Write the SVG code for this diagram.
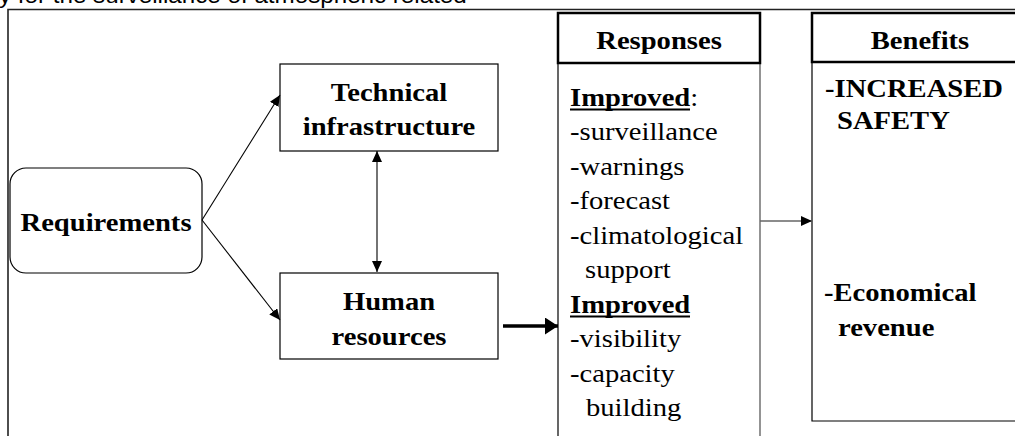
<svg xmlns="http://www.w3.org/2000/svg" width="1015" height="436" viewBox="0 0 1015 436">
  <style>
    .t { font-family: "Liberation Serif", "Times New Roman", serif; font-size: 26px; fill: #000; }
    .b { font-weight: bold; }
    .c { text-anchor: middle; }
    .cap { font-family: "Liberation Sans", Arial, sans-serif; font-size: 22px; fill: #000; }
    .box { fill: #fff; stroke: #000; stroke-width: 1.2; }
    .hdr { fill: #fff; stroke: #000; stroke-width: 2.5; }
    .frame { fill: none; stroke: #222; stroke-width: 1.6; }
    .col { fill: none; stroke: #000; stroke-width: 1.2; }
    .colg { fill: none; stroke: #666; stroke-width: 1.4; }
    .conn { fill: none; stroke: #000; stroke-width: 1.1; }
    .thick { fill: none; stroke: #000; stroke-width: 3.5; }
    .ul { stroke: #000; stroke-width: 2; }
  </style>
  <defs>
    <marker id="ah" markerUnits="userSpaceOnUse" markerWidth="12" markerHeight="10" refX="11" refY="5" orient="auto-start-reverse">
      <path d="M0,0 L11,5 L0,10 Z" fill="#000"/>
    </marker>
    <marker id="ahb" markerUnits="userSpaceOnUse" markerWidth="14" markerHeight="17" refX="13" refY="8.5" orient="auto">
      <path d="M0,0 L13,8.5 L0,17 Z" fill="#000"/>
    </marker>
  </defs>

  <rect width="1015" height="436" fill="#fff"/>

  <text class="cap" transform="translate(-1 3) scale(1.1 1)">y for the surveillance of atmospheric related</text>

  <g id="frame">
    <path class="frame" d="M8,437 L8,9.5 L1016,9.5"/>
  </g>

  <g id="requirements">
    <rect class="box" x="10" y="168" width="192" height="105" rx="16" ry="16"/>
    <text class="t b c" transform="translate(106 231) scale(1.1 1)">Requirements</text>
  </g>

  <g id="technical">
    <rect class="box" x="280" y="64" width="218" height="87"/>
    <text class="t b c" transform="translate(389 101) scale(1.1 1)">Technical</text>
    <text class="t b c" transform="translate(389 135) scale(1.1 1)">infrastructure</text>
  </g>

  <g id="human">
    <rect class="box" x="280" y="273" width="218" height="86"/>
    <text class="t b c" transform="translate(389 310) scale(1.1 1)">Human</text>
    <text class="t b c" transform="translate(389 345) scale(1.1 1)">resources</text>
  </g>

  <g id="responses">
    <line class="col" x1="558" y1="63" x2="558" y2="437"/>
    <line class="colg" x1="760" y1="63" x2="760" y2="437"/>
    <rect class="hdr" x="558" y="13" width="202" height="50"/>
    <text class="t b c" transform="translate(659 49) scale(1.1 1)">Responses</text>
    <text class="t" transform="translate(570 105.5) scale(1.1 1)"><tspan class="b">Improved</tspan>:</text>
    <line class="ul" x1="570" y1="109.5" x2="690" y2="109.5"/>
    <text class="t" transform="translate(570 140) scale(1.1 1)">-surveillance</text>
    <text class="t" transform="translate(570 174.5) scale(1.1 1)">-warnings</text>
    <text class="t" transform="translate(570 209) scale(1.1 1)">-forecast</text>
    <text class="t" transform="translate(570 243.5) scale(1.1 1)">-climatological</text>
    <text class="t" transform="translate(585 278) scale(1.1 1)">support</text>
    <text class="t b" transform="translate(570 312.5) scale(1.1 1)">Improved</text>
    <line class="ul" x1="570" y1="316.5" x2="690" y2="316.5"/>
    <text class="t" transform="translate(570 347) scale(1.1 1)">-visibility</text>
    <text class="t" transform="translate(570 381.5) scale(1.1 1)">-capacity</text>
    <text class="t" transform="translate(586 416) scale(1.1 1)">building</text>
  </g>

  <g id="benefits">
    <path class="col" d="M812,62 L812,421 L1016,421"/>
    <rect class="hdr" x="812" y="13" width="220" height="49"/>
    <text class="t b c" transform="translate(920 49) scale(1.1 1)">Benefits</text>
    <text class="t b" transform="translate(825 97) scale(1.1 1)">-INCREASED</text>
    <text class="t b" transform="translate(837 129) scale(1.1 1)">SAFETY</text>
    <text class="t b" transform="translate(824 301) scale(1.1 1)">-Economical</text>
    <text class="t b" transform="translate(838 336) scale(1.1 1)">revenue</text>
  </g>

  <g id="connectors">
    <line class="conn" x1="202" y1="220" x2="280" y2="95" marker-end="url(#ah)"/>
    <line class="conn" x1="202" y1="220" x2="280" y2="320" marker-end="url(#ah)"/>
    <line class="conn" x1="377" y1="151" x2="377" y2="272" marker-start="url(#ah)" marker-end="url(#ah)"/>
    <line class="thick" x1="503" y1="326" x2="558" y2="326" marker-end="url(#ahb)"/>
    <line class="colg" x1="760" y1="221" x2="812" y2="221" marker-end="url(#ah)"/>
  </g>
</svg>
